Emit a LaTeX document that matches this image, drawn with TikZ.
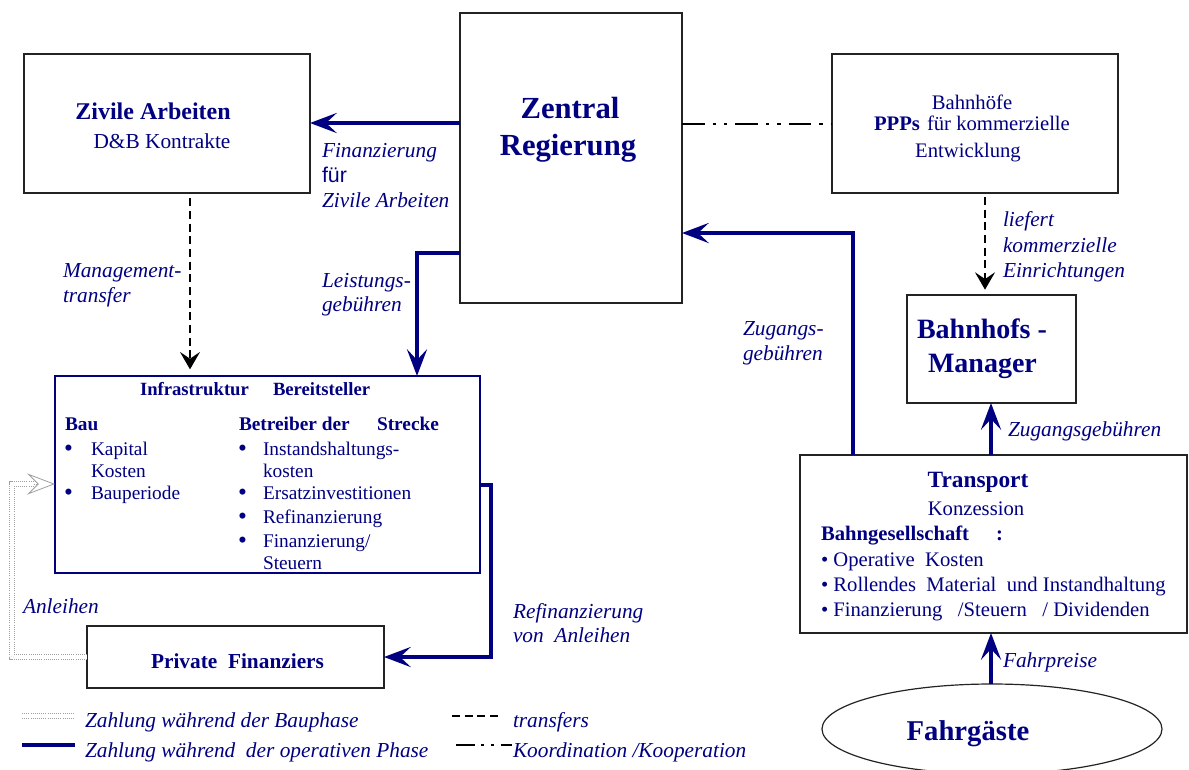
\documentclass[tikz,border=0pt]{standalone}
\usepackage{fontspec}
\setmainfont{Liberation Serif}
\newfontfamily\arialfont{Liberation Sans}
\usetikzlibrary{arrows.meta,shapes.geometric}
\definecolor{navy}{RGB}{0,0,128}
\definecolor{frame}{RGB}{35,35,35}
\newcommand{\fs}[1]{\fontsize{#1}{#1}\selectfont}

\begin{document}
\begin{tikzpicture}[x=0.75pt,y=-0.75pt,
  every node/.style={inner sep=0pt, outer sep=0pt, text=navy},
  box/.style 2 args={draw=frame, line width=1.1pt, minimum width=#1*0.75pt,
    minimum height=#2*0.75pt, anchor=north west},
  navybox/.style 2 args={box={#1}{#2}, draw=navy, line width=1.5pt},
  pay/.style={draw=navy, line width=3pt,
    -{Stealth[length=20pt,width=15pt,inset=8pt]}},
  payline/.style={draw=navy, line width=3pt},
  transfer/.style={draw=black, line width=1.1pt, dash pattern=on 6pt off 3.5pt,
    -{Stealth[length=13pt,width=15pt,inset=5pt]}},
  coop/.style={draw=black, line width=2.2pt,
    dash pattern=on 17pt off 6pt on 2.5pt off 6pt on 2.5pt off 6pt},
  buildpay/.style={draw=gray!75, line width=0.6pt, double=white,
    double distance=3pt, densely dotted},
  lab/.style={font=\fs{16pt}\itshape, anchor=base west},
  txt/.style={font=\fs{14.5pt}, anchor=base west},
  btxt/.style={font=\fs{14.5pt}\bfseries, anchor=base west},
  bul/.style={font=\fs{19pt}, anchor=base west}
]
\useasboundingbox (0,0) rectangle (1189,769);

% ---------- boxes ----------
\node[box={286}{139}] (zv) at (24,54) {};
\node[box={222}{290}] (zr) at (460,13) {};
\node[box={286}{139}] (pp) at (832,54) {};
\node[box={169}{108}] (bm) at (907,295) {};
\node[navybox={425}{197}] (ip) at (55,376) {};
\node[box={297}{62}] (pf) at (87,626) {};
\node[box={387}{178}] (tr) at (800,455) {};
\node[ellipse, draw=frame, line width=0.9pt, minimum width=340*0.75pt,
      minimum height=90*0.75pt] (fg) at (992,729) {};

% ---------- box texts ----------
\node[font=\fs{18pt}\bfseries, anchor=base] (zvt) at (153,119) {Zivile Arbeiten};
\node[font=\fs{16pt}, anchor=base] (zvs) at (162,148) {D\&B Kontrakte};

\node[font=\fs{23pt}\bfseries, anchor=base] (zrt1) at (570,118) {Zentral};
\node[font=\fs{23pt}\bfseries, anchor=base] (zrt2) at (568,155) {Regierung};

\node[font=\fs{15.5pt}, anchor=base] (ppt1) at (972,109) {Bahnhöfe};
\node[font=\fs{15.5pt}\bfseries, anchor=base west] (ppt2) at (874,130) {PPPs};
\node[font=\fs{15.5pt}, anchor=base west] (ppt3) at (927,130) {für kommerzielle};
\node[font=\fs{15.5pt}, anchor=base] (ppt4) at (968,157) {Entwicklung};

\node[font=\fs{21pt}\bfseries, anchor=base west] (bmt1) at (917,338) {Bahnhofs -};
\node[font=\fs{21pt}\bfseries, anchor=base west] (bmt2) at (928,372) {Manager};

\node[font=\fs{14pt}\bfseries, anchor=base west] (ipt1) at (140,395) {Infrastruktur};
\node[font=\fs{14pt}\bfseries, anchor=base west] (ipt2) at (273,395) {Bereitsteller};
\node[btxt] (bau) at (65,430) {Bau};
\node[bul] (b1) at (64,456) {\textbullet};
\node[txt] (b1t) at (91,455) {Kapital};
\node[txt] (b1u) at (91,477) {Kosten};
\node[bul] (b2) at (64,500) {\textbullet};
\node[txt] (b2t) at (91,499) {Bauperiode};

\node[btxt] (betr) at (239,430) {Betreiber der};
\node[btxt] (str) at (377,430) {Strecke};
\node[bul] (c1) at (238,456) {\textbullet};
\node[txt] (c1t) at (263,455) {Instandshaltungs-};
\node[txt] (c1u) at (263,477) {kosten};
\node[bul] (c2) at (238,500) {\textbullet};
\node[txt] (c2t) at (263,499) {Ersatzinvestitionen};
\node[bul] (c3) at (238,524) {\textbullet};
\node[txt] (c3t) at (263,523) {Refinanzierung};
\node[bul] (c4) at (238,548) {\textbullet};
\node[txt] (c4t) at (263,547) {Finanzierung/};
\node[txt] (c4u) at (263,569) {Steuern};

\node[font=\fs{16pt}\bfseries, anchor=base west] (pft) at (151,668) {Private\ \ Finanziers};

\node[font=\fs{17.5pt}\bfseries, anchor=base] (trt1) at (978,487) {Transport};
\node[font=\fs{15.5pt}, anchor=base] (trt2) at (976,515) {Konzession};
\node[font=\fs{15.5pt}\bfseries, anchor=base west] (trt3) at (821,540) {Bahngesellschaft};
\node[font=\fs{15.5pt}\bfseries, anchor=base west] (trt4) at (996,540) {:};
\node[font=\fs{15.5pt}, anchor=base west] (trb1) at (821,566) {\textbullet\ Operative\ \ Kosten};
\node[font=\fs{15.5pt}, anchor=base west] (trb2) at (821,591) {\textbullet\ Rollendes\ \ Material\ \ und Instandhaltung};
\node[font=\fs{15.5pt}, anchor=base west] (trb3) at (821,616) {\textbullet\ Finanzierung\ \ \ /Steuern\ \ \ / Dividenden};

\node[font=\fs{21.5pt}\bfseries, anchor=base] (fgt) at (968,740) {Fahrgäste};

% ---------- connectors ----------
\draw[pay] (zr.west |- 0,123) -- (zv.east |- 0,123);
\draw[coop] (zr.east |- 0,124) -- (pp.west |- 0,124);
\draw[transfer, shorten <=4pt, shorten >=5pt] (190,0 |- zv.south) -- (190,0 |- ip.north);
\draw[pay] (zr.west |- 0,253) -| (417,0 |- ip.north);
\draw[pay] (853,0 |- tr.north) |- (zr.east |- 0,233);
\draw[transfer, shorten <=3pt, shorten >=4pt] (985,0 |- pp.south) -- (985,0 |- bm.north);
\draw[pay] (991,0 |- tr.north) -- (991,0 |- bm.south);
\draw[pay] (991,0 |- fg.north) -- (991,0 |- tr.south);
\draw[pay] (ip.east |- 0,485) -| (491,0 |- pf.east) -- (pf.east);
\draw[buildpay] (pf.west) -- (12,0 |- pf.west) -- (12,484) -- (36,484);
\draw[draw=gray!75, line width=0.6pt, densely dotted,
      -{Stealth[open,length=21pt,width=16pt,inset=8pt]}] (34,484) -- (ip.west |- 0,484);

% ---------- connector labels ----------
\node[lab] (l1a) at (322,157) {Finanzierung};
\node[font=\fs{16pt}\arialfont, anchor=base west] (l1b) at (322,182) {für};
\node[lab] (l1c) at (322,207) {Zivile Arbeiten};
\node[lab] (l2a) at (63,277) {Management-};
\node[lab] (l2b) at (63,302) {transfer};
\node[lab] (l3a) at (322,287) {Leistungs-};
\node[lab] (l3b) at (322,311) {gebühren};
\node[lab] (l4a) at (743,335) {Zugangs-};
\node[lab] (l4b) at (743,360) {gebühren};
\node[lab] (l5a) at (1003,226) {liefert};
\node[lab] (l5b) at (1003,252) {kommerzielle};
\node[lab] (l5c) at (1003,277) {Einrichtungen};
\node[lab] (l6) at (1008,436) {Zugangsgebühren};
\node[lab] (l7) at (1003,667) {Fahrpreise};
\node[lab] (l8) at (23,613) {Anleihen};
\node[lab] (l9a) at (513,618) {Refinanzierung};
\node[lab] (l9b) at (513,642) {von\ \ Anleihen};

% ---------- legend ----------
\draw[buildpay] (22,716) -- (75,716);
\draw[payline] (22,745) -- (75,745);
\draw[draw=black, line width=1.1pt, dash pattern=on 6pt off 3.5pt] (452,716) -- (501,716);
\draw[draw=black, line width=2.2pt, dash pattern=on 14pt off 5pt on 2.2pt off 5pt on 2.2pt off 5pt] (456,745) -- (512,745);
\node[lab] (lg1) at (85,727) {Zahlung während der Bauphase};
\node[lab] (lg2) at (85,757) {Zahlung während\ \ der operativen Phase};
\node[lab] (lg3) at (513,727) {transfers};
\node[lab] (lg4) at (513,757) {Koordination /Kooperation};
\end{tikzpicture}
\end{document}
